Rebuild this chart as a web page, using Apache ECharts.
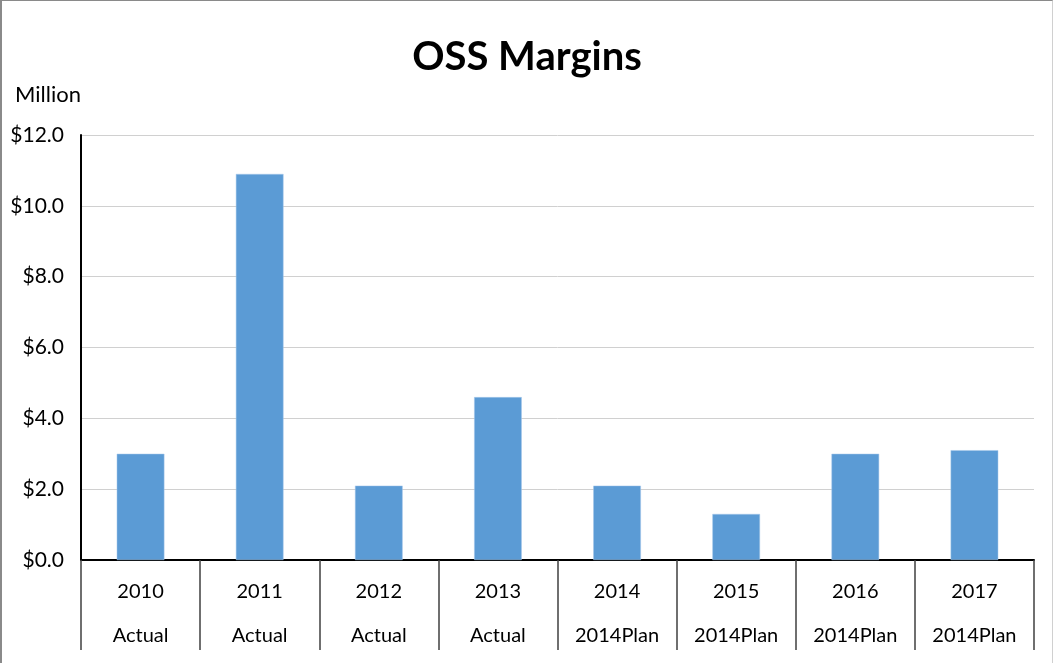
<!DOCTYPE html>
<html>
<head>
<meta charset="utf-8">
<script src="https://cdn.jsdelivr.net/npm/echarts@6/dist/echarts.min.js"></script>
<style>
html,body{margin:0;padding:0;background:#fff;}
#c{width:1053px;height:663px;box-sizing:border-box;border-left:2px solid #8a8a8a;border-top:1px solid #8a8a8a;border-right:1px solid #d0d0d0;}
</style>
</head>
<body>
<div id="c"></div>
<script>
const years = ['2010','2011','2012','2013','2014','2015','2016','2017'];
const kinds = ['Actual','Actual','Actual','Actual','2014Plan','2014Plan','2014Plan','2014Plan'];
const margins = [3.0, 10.9, 2.1, 4.6, 2.1, 1.3, 3.0, 3.1];
const yTicks = {min: 0, max: 12, interval: 2};

const categories = years.map((y, i) => y + '\n' + kinds[i]);
const chart = echarts.init(document.getElementById('c'));
const font = 'Lato, "Open Sans", sans-serif';
chart.setOption({
  animation: false,
  title: {
    text: 'OSS Margins', left: 'center', top: 31,
    textStyle: {fontFamily: font, fontSize: 40, fontWeight: 'bold', color: '#000'}
  },
  graphic: [{
    type: 'text', left: 13, top: 83,
    style: {text: 'Million', font: '22px ' + font, fill: '#000'}
  }],
  grid: {left: 79, right: 18, top: 134, bottom: 103},
  xAxis: {
    type: 'category', data: categories,
    axisLine: {lineStyle: {color: '#000', width: 2}},
    axisTick: {show: true, interval: 0, length: 90, lineStyle: {color: '#404040', width: 1.5}},
    axisLabel: {interval: 0, margin: 10, lineHeight: 44, fontFamily: font, fontSize: 20, color: '#000'}
  },
  yAxis: {
    type: 'value', min: yTicks.min, max: yTicks.max, interval: yTicks.interval,
    axisLine: {show: true, lineStyle: {color: '#000', width: 2}},
    axisTick: {show: false},
    splitLine: {lineStyle: {color: '#d0d0d0', width: 1}},
    axisLabel: {margin: 17, fontFamily: font, fontSize: 21, color: '#000',
      formatter: v => '$' + v.toFixed(1)}
  },
  series: [{
    type: 'bar', data: margins, barWidth: '40%',
    itemStyle: {color: '#5b9bd5', borderColor: '#a9c8ea', borderWidth: 0.5}
  }]
});
</script>
</body>
</html>
